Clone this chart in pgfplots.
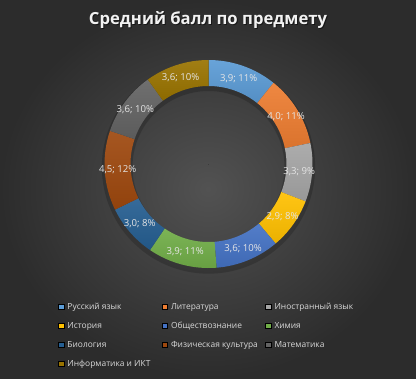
\documentclass[border=0pt]{standalone}
\usepackage{pgfplots}
\pgfplotsset{compat=1.18}
\usepackage{pgfplotstable}
\usepackage{fontspec}
\setmainfont{Open Sans}
\definecolor{c0}{HTML}{5B9BD5}
\definecolor{c1}{HTML}{ED7D31}
\definecolor{c2}{HTML}{A5A5A5}
\definecolor{c3}{HTML}{FFC000}
\definecolor{c4}{HTML}{4472C4}
\definecolor{c5}{HTML}{70AD47}
\definecolor{c6}{HTML}{255E91}
\definecolor{c7}{HTML}{9E480E}
\definecolor{c8}{HTML}{636363}
\definecolor{c9}{HTML}{997300}
\definecolor{txt}{HTML}{D9D9D9}
\definecolor{bgin}{HTML}{525252}
\definecolor{bgout}{HTML}{2C2C2C}
\pgfplotstableread{
val pct
3.9 11
4.0 11
3.3 9
2.9 8
3.6 10
3.9 11
3.0 8
4.5 12
3.6 10
3.6 10
}\data
\pgfplotstablecreatecol[create col/expr accum={\pgfmathaccuma+\thisrow{val}}{0}]{cum}\data
\pgfplotstablegetelem{9}{cum}\of\data
\let\total\pgfplotsretval
\begin{document}
\begin{tikzpicture}
\begin{axis}[
  width=312pt, height=283.5pt, scale only axis,
  xmin=0, xmax=416, ymin=0, ymax=378,
  axis lines=none, clip=false,
  legend columns=3,
  legend cell align=left,
  legend style={at={(axis cs:58,76)}, anchor=north west, draw=none, fill=none,
    text=txt, font=\fontsize{6.3}{7.5}\selectfont, inner sep=0pt, column sep=0pt,
    row sep=7pt, nodes={inner sep=0pt, text height=5.5pt, text depth=1.75pt}},
  legend image code/.code={\fill[#1] (0pt,-1.75pt) rectangle (4.25pt,2.5pt); \path (6.5pt,0pt);},
]
\shade[inner color=bgin, outer color=bgout] (axis cs:0,0) rectangle (axis cs:416,378);
\fill[black, opacity=0.18, even odd rule] (axis cs:208.5,211) circle[radius=80pt] circle[radius=57pt];
\node[font=\bfseries\fontsize{12.5}{14}\selectfont, text=black, opacity=0.5] at (axis cs:209,357) {Средний балл по предмету};
\node[font=\bfseries\fontsize{12.5}{14}\selectfont, text=white!95!black] at (axis cs:208,358) {Средний балл по предмету};
\addplot[scatter, only marks, mark=*, mark size=0pt, draw=none, fill=none, forget plot,
  x filter/.expression={208.5}, y filter/.expression={214},
  point meta=explicit,
  visualization depends on={rawx\as\cum},
  visualization depends on={rawy\as\val},
  visualization depends on={value \coordindex\as\idx},
  scatter/@pre marker code/.code={%
    \pgfmathsetmacro\aA{90-(\cum-\val)*360/\total}%
    \pgfmathsetmacro\aB{90-\cum*360/\total}%
    \pgfmathsetmacro\aM{(\aA+\aB)/2}%
    \shade[top color=c\idx!92!white, bottom color=c\idx!92!black] (\aA:78pt) arc[start angle=\aA, end angle=\aB, radius=78pt] -- (\aB:58.5pt) arc[start angle=\aB, end angle=\aA, radius=58.5pt] -- cycle;
    \node[text=white!90!black, font=\fontsize{7.2}{8}\selectfont, inner sep=0pt] at (\aM:68.25pt) {\pgfmathprintnumber[fixed,fixed zerofill,precision=1,use comma,assume math mode=true]{\val}; \pgfmathprintnumber[fixed,precision=0,assume math mode=true]{\pgfplotspointmeta}\%};
  },
  scatter/@post marker code/.code={},
] table[x=cum, y=val, meta=pct] {\data};
\addlegendimage{fill=c0}\addlegendentry{\makebox[70.75pt][l]{Русский язык}}
\addlegendimage{fill=c1}\addlegendentry{\makebox[70.75pt][l]{Литература}}
\addlegendimage{fill=c2}\addlegendentry{\makebox[70.75pt][l]{Иностранный язык}}
\addlegendimage{fill=c3}\addlegendentry{\makebox[70.75pt][l]{История}}
\addlegendimage{fill=c4}\addlegendentry{\makebox[70.75pt][l]{Обществознание}}
\addlegendimage{fill=c5}\addlegendentry{\makebox[70.75pt][l]{Химия}}
\addlegendimage{fill=c6}\addlegendentry{\makebox[70.75pt][l]{Биология}}
\addlegendimage{fill=c7}\addlegendentry{\makebox[70.75pt][l]{Физическая культура}}
\addlegendimage{fill=c8}\addlegendentry{\makebox[70.75pt][l]{Математика}}
\addlegendimage{fill=c9}\addlegendentry{\makebox[70.75pt][l]{Информатика и ИКТ}}
\end{axis}
\end{tikzpicture}
\end{document}
